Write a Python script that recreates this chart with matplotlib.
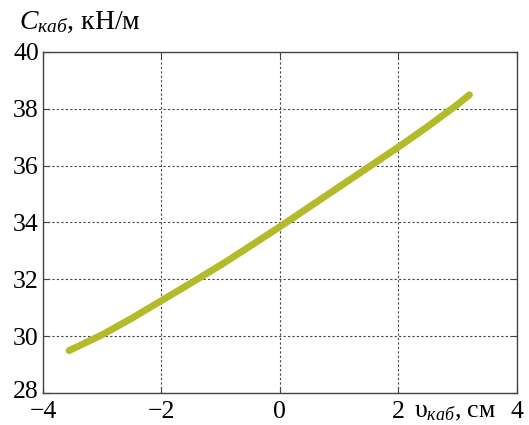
import matplotlib
matplotlib.use("Agg")
import matplotlib.pyplot as plt
import matplotlib.transforms as mtransforms

plt.rcParams['font.family'] = ['Liberation Serif', 'DejaVu Serif']
plt.rcParams['mathtext.fontset'] = 'custom'
plt.rcParams['mathtext.rm'] = 'Liberation Serif'
plt.rcParams['mathtext.it'] = 'Liberation Serif:italic'

# displacement of the cabin, cm -> stiffness, kN/m
x_disp = [-3.56, -3.0, -2.5, -2.0, -1.5, -1.0, -0.5, 0.0,
          0.5, 1.0, 1.5, 2.0, 2.5, 3.0, 3.2]
c_stiff = [29.49, 30.05, 30.63, 31.25, 31.87, 32.5, 33.17, 33.85,
           34.55, 35.25, 35.95, 36.65, 37.38, 38.15, 38.49]

x_ticks = [-4, -2, 0, 2, 4]
y_ticks = [28, 30, 32, 34, 36, 38, 40]

fig = plt.figure(figsize=(5.29, 4.25), dpi=100)
ax = fig.add_axes([0.0813, 0.0753, 0.8957, 0.8027])

ax.plot(x_disp, c_stiff, color='#b3bb2a', lw=5, solid_capstyle='round')

ax.set_xlim(-4, 4)
ax.set_ylim(28, 40)
ax.set_xticks(x_ticks)
ax.set_yticks(y_ticks)
ax.set_xticklabels(['\u22124', '\u22122', '0', '2', '4'])
ax.grid(True, color='#444444', ls=(0, (2, 2)), lw=0.8)
ax.tick_params(direction='in', length=4, top=True, right=True,
               labelsize=18.5, color='#444444')
ax.tick_params(axis='x', pad=6)
ax.tick_params(axis='y', pad=3)
# lowest y label a bit above the axis line, like in the original
lab28 = ax.get_yticklabels()[0]
lab28.set_transform(lab28.get_transform() +
                    mtransforms.ScaledTranslation(0, 0.035, fig.dpi_scale_trans))
for s in ax.spines.values():
    s.set_color('#444444')
    s.set_linewidth(1.0)

fig.text(0.035, 0.948, '$\\mathit{C}_{\\mathit{каб}}$, кН/м', fontsize=20,
         ha='left', va='center')
fig.text(0.937, 0.030, '$\\mathrm{υ}_{\\mathit{каб}}$, см', fontsize=18.5,
         ha='right', va='center')

fig.savefig('out.png', dpi=100)
